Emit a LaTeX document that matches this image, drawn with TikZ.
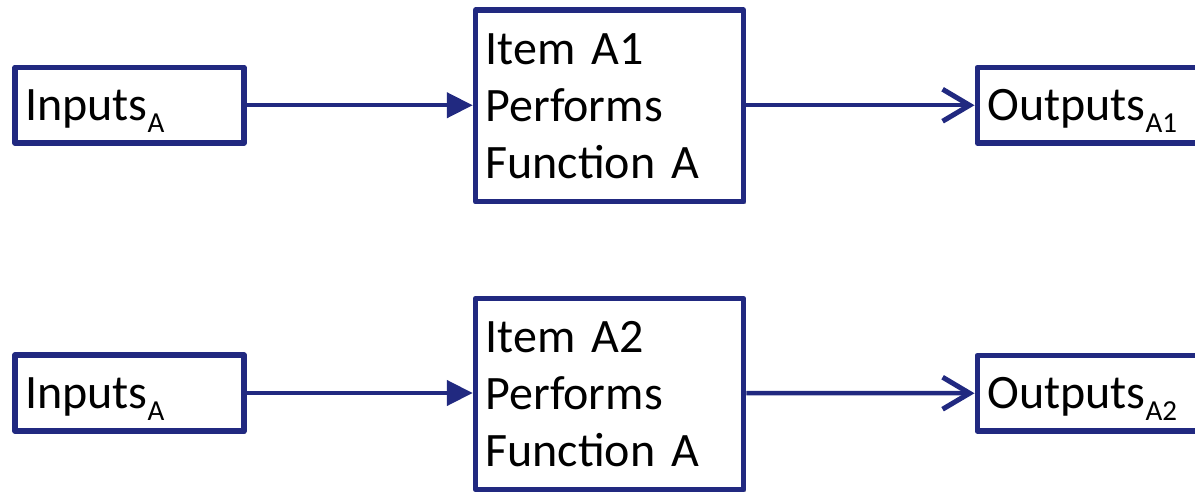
\documentclass[tikz,border=0pt]{standalone}
\usepackage{fontspec}
\setmainfont{Carlito}
\usetikzlibrary{arrows.meta,shadows}
\definecolor{navy}{RGB}{33,41,128}
% body size for box labels, with a slightly narrower word space
\newcommand\boxfont{\fontsize{48}{57}\selectfont\spaceskip=6pt plus 2pt\relax}
% word followed by a lowered, smaller subscript
\newcommand\withsub[2]{#1\raisebox{-12pt}{\fontsize{29}{30}\selectfont #2}}
\begin{document}
\begin{tikzpicture}[x=1pt,y=-1pt,
  box/.style={draw=navy, line width=5.5pt, line join=round, fill=white,
    rectangle, align=left, inner xsep=10pt, inner ysep=0pt, text=black,
    font=\boxfont,
    drop shadow={shadow xshift=2pt, shadow yshift=-2.5pt, opacity=.25, fill=black}},
  iobox/.style={box, minimum width=229pt, text width=209pt,
    text height=40pt, text depth=9pt},
  itembox/.style={box, minimum width=268pt, text width=248pt},
  outbox/.style={box, minimum width=280pt, text width=260pt, anchor=west,
    text height=40pt, text depth=9pt},
  feed/.style={draw=navy, line width=4.5pt, -{Triangle[length=26pt,width=25pt]}},
  yield/.style={draw=navy, line width=4.5pt,
    -{Straight Barb[length=27pt,width=32pt,line width=5pt,line join=miter]}},
]
\useasboundingbox (0,0) rectangle (1195,492);
\clip (0,0) rectangle (1195,492);

% upper chain
\node[iobox, minimum height=75.5pt] (inA1) at (129.5,105.25) {\withsub{Inputs}{A}};
\node[itembox, minimum height=191.5pt] (itA1) at (609.5,106)
  {Item A1\\Performs\\Function A};
\node[outbox, minimum height=75.5pt] (outA1) at (974.5,105.25) {\withsub{Outputs}{A1}};

% lower chain
\node[iobox, minimum height=76pt] (inA2) at (129.5,393) {\withsub{Inputs}{A}};
\node[itembox, minimum height=191pt] (itA2) at (609.5,394)
  {Item A2\\Performs\\Function A};
\node[outbox, minimum height=75.5pt] (outA2) at (974.5,393.25) {\withsub{Outputs}{A2}};

% connectors
\draw[feed] (inA1.east) -- (inA1.east -| itA1.west);
\draw[yield] (itA1.east |- inA1.east) -- (outA1.west);
\draw[feed] (inA2.east) -- (inA2.east -| itA2.west);
\draw[yield] (itA2.east |- inA2.east) -- (outA2.west);
\end{tikzpicture}
\end{document}
